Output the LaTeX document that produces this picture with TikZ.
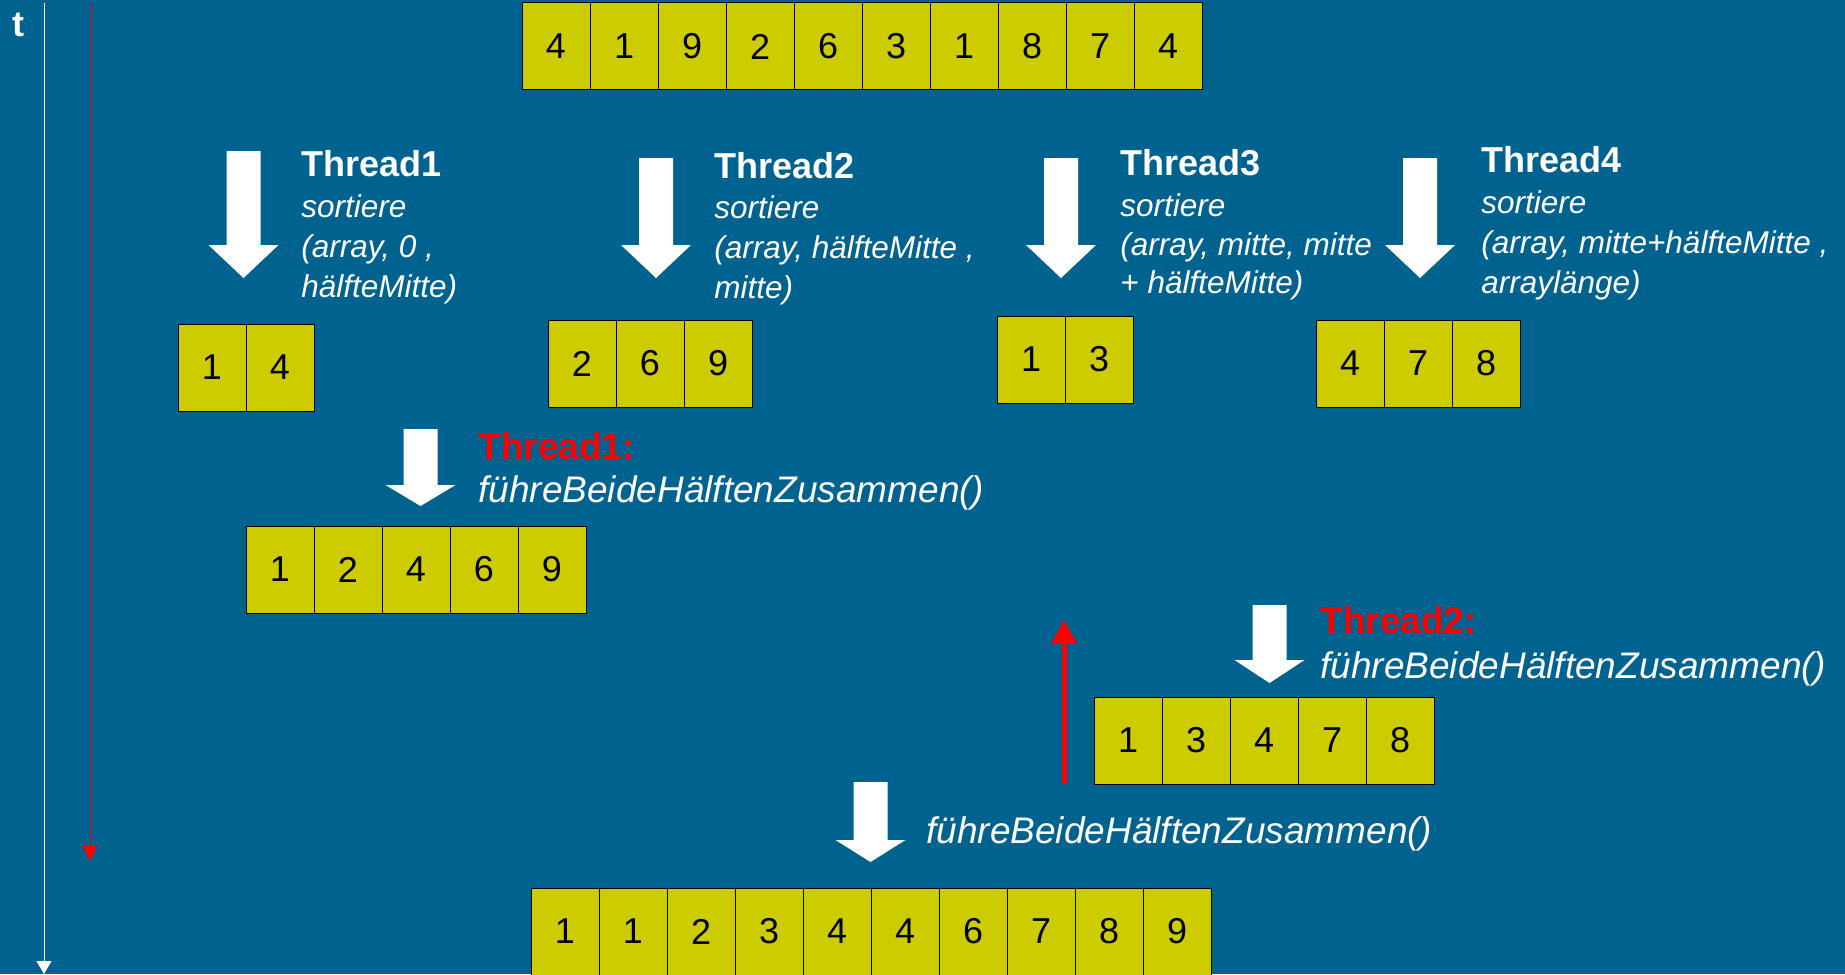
\documentclass[tikz,border=0pt]{standalone}
\usepackage{fontspec}
\setmainfont{Liberation Sans}
\usetikzlibrary{arrows.meta}

\definecolor{bgblue}{RGB}{0,99,143}
\definecolor{cellfill}{RGB}{204,204,0}
\definecolor{hotred}{RGB}{255,0,0}

\tikzset{
  cell/.style={draw=black, line width=0.5pt, fill=cellfill,
    minimum width=34pt, minimum height=43.5pt, inner sep=0pt,
    font=\fontsize{18}{20}\selectfont, text=black},
  title/.style={anchor=base west, inner sep=0pt, text=white,
    font=\fontsize{18}{20}\selectfont\bfseries},
  call/.style={anchor=base west, inner sep=0pt, text=white,
    font=\fontsize{15.75}{18}\selectfont\itshape},
  mergehead/.style={anchor=base west, inner sep=0pt, text=hotred,
    font=\fontsize{18.5}{20}\selectfont\bfseries},
  mergecall/.style={anchor=base west, inner sep=0pt, text=white,
    font=\fontsize{18.5}{20}\selectfont\itshape},
  timeline/.style={line width=0.5pt},
}

% one row of array cells: name, left x, top y, values
\newcommand{\cellrow}[4]{%
  \foreach \v [count=\k from 0] in {#4} {
    \node[cell] (#1-\k) at ({#2+34+68*\k},{#3+43.5}) {\v};}}

% white block arrow pointing down: centre x, top, head start, tip
\newcommand{\blockdown}[4]{%
  \fill[white] (#1-17,#2) -- (#1+17,#2) -- (#1+17,#3) -- (#1+35,#3)
    -- (#1,#4) -- (#1-35,#3) -- (#1-17,#3) -- cycle;}

\begin{document}
\begin{tikzpicture}[x=0.5pt,y=-0.5pt]
  \useasboundingbox (0,0) rectangle (1845,974);
  \fill[bgblue] (0,0) rectangle (1845,974);

  % time axis
  \node[title] (tlabel) at (12,37) {t};
  \coordinate (wtop) at (44,3);
  \coordinate (wend) at (44,974);
  \draw[timeline, white, -{Triangle[length=6.5pt,width=7.5pt]}] (wtop) -- (wend);
  \coordinate (rtop) at (90,3);
  \coordinate (rend) at (90,861);
  \draw[timeline, hotred, -{Triangle[length=7.5pt,width=7.5pt]}] (rtop) -- (rend);

  % input array
  \cellrow{in}{522}{3}{4,1,9,2,6,3,1,8,7,4}

  % four sorting threads
  \blockdown{243.5}{151}{245}{278}
  \node[title] (t1) at (301,176) {Thread1};
  \node[call] (t1a) at (301,217) {sortiere};
  \node[call] (t1b) at (301,257) {(array, 0 ,};
  \node[call] (t1c) at (301,297) {hälfteMitte)};

  \blockdown{656}{158}{245}{278}
  \node[title] (t2) at (714,178) {Thread2};
  \node[call] (t2a) at (714,218) {sortiere};
  \node[call] (t2b) at (714,258) {(array, hälfteMitte ,};
  \node[call] (t2c) at (714,298) {mitte)};

  \blockdown{1061}{158}{245}{278}
  \node[title] (t3) at (1120,175) {Thread3};
  \node[call] (t3a) at (1120,216) {sortiere};
  \node[call] (t3b) at (1120,255) {(array, mitte, mitte};
  \node[call] (t3c) at (1120,293) {+ hälfteMitte)};

  \blockdown{1420}{158}{245}{278}
  \node[title] (t4) at (1481,172) {Thread4};
  \node[call] (t4a) at (1481,213) {sortiere};
  \node[call] (t4b) at (1481,253) {(array, mitte+hälfteMitte ,};
  \node[call] (t4c) at (1481,293) {arraylänge)};

  % sorted quarters
  \cellrow{qa}{178}{324}{1,4}
  \cellrow{qb}{548}{320}{2,6,9}
  \cellrow{qc}{997}{316}{1,3}
  \cellrow{qd}{1316}{320}{4,7,8}

  % first merge
  \blockdown{420.5}{429}{485}{506}
  \node[mergehead] (m1) at (478,459) {Thread1:};
  \node[mergecall] (m1a) at (478,502) {führeBeideHälftenZusammen()};
  \cellrow{ha}{246}{526}{1,2,4,6,9}

  % second merge
  \blockdown{1269.5}{605}{660}{683}
  \node[mergehead] (m2) at (1320,633) {Thread2:};
  \node[mergecall] (m2a) at (1320,678) {führeBeideHälftenZusammen()};
  \cellrow{hb}{1094}{697}{1,3,4,7,8}

  % wait marker
  \coordinate (ubot) at (1064,784);
  \coordinate (utip) at (1064,620);
  \draw[hotred, line width=2.5pt, -{Triangle[length=11.5pt,width=12pt]}] (ubot) -- (utip);

  % final merge
  \blockdown{870.5}{782}{840}{862}
  \node[mergecall] (fm) at (926,843) {führeBeideHälftenZusammen()};
  \cellrow{out}{531}{888}{1,1,2,3,4,4,6,7,8,9}
\end{tikzpicture}
\end{document}
